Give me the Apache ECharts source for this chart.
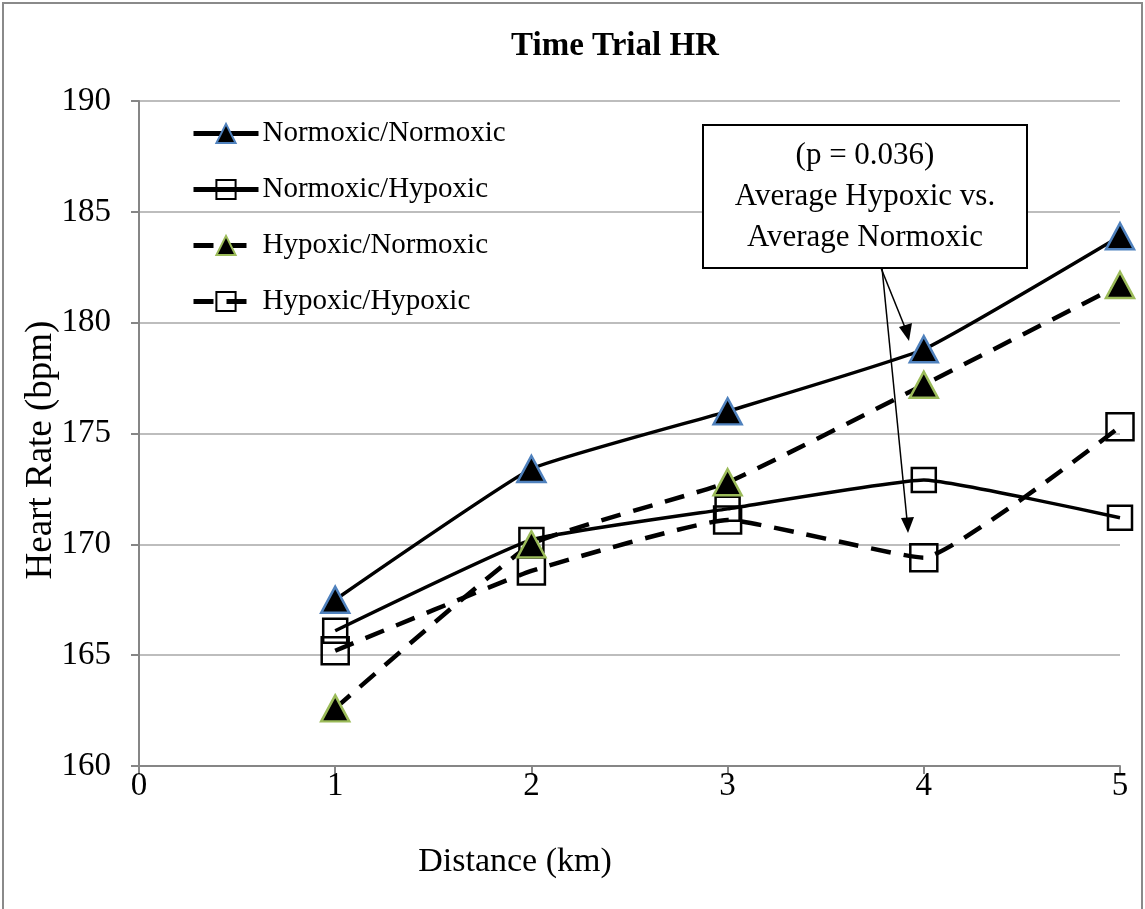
<!DOCTYPE html>
<html>
<head>
<meta charset="utf-8">
<script src="https://cdn.jsdelivr.net/npm/echarts@6/dist/echarts.min.js"></script>
<style>
html,body{margin:0;padding:0;background:#fff;}
#chart{width:1145px;height:909px;}
</style>
</head>
<body>
<div id="chart"></div>
<script>
const distances = [1, 2, 3, 4, 5];
const normNorm = [167.5, 173.4, 176.0, 178.8, 183.9];
const normHyp  = [166.1, 170.2, 171.6, 172.9, 171.2];
const hypNorm  = [162.6, 170.0, 172.8, 177.2, 181.7];
const hypHyp   = [165.2, 168.8, 171.1, 169.4, 175.3];
const seriesNames = ['Normoxic/Normoxic', 'Normoxic/Hypoxic', 'Hypoxic/Normoxic', 'Hypoxic/Hypoxic'];
const xTicks = [0, 1, 2, 3, 4, 5];
const yTicks = [160, 165, 170, 175, 180, 185, 190];
const titleText = 'Time Trial HR';
const xName = 'Distance (km)';
const yName = 'Heart Rate (bpm)';
const noteLines = ['(p = 0.036)', 'Average Hypoxic vs.', 'Average Normoxic'];

const FONT = '"Liberation Serif", "Times New Roman", serif';
const pair = (vals) => distances.map((d, i) => [d, vals[i]]);
const SMOOTH = 0.12;

const chart = echarts.init(document.getElementById('chart'), null, {renderer: 'canvas'});

const option = {
  animation: false,
  backgroundColor: '#fff',
  textStyle: {fontFamily: FONT, color: '#000'},
  grid: {left: 139, right: 25, top: 101, bottom: 143, containLabel: false},
  xAxis: {
    type: 'value', min: xTicks[0], max: xTicks[xTicks.length - 1], interval: 1,
    axisLine: {lineStyle: {color: '#868686', width: 2}},
    axisTick: {show: true, length: 8, lineStyle: {color: '#868686', width: 2}},
    axisLabel: {fontFamily: FONT, fontSize: 33, color: '#000', margin: 4},
    splitLine: {show: false}
  },
  yAxis: {
    type: 'value', min: yTicks[0], max: yTicks[yTicks.length - 1], interval: 5,
    axisLine: {show: true, lineStyle: {color: '#868686', width: 2}},
    axisTick: {show: true, length: 8, lineStyle: {color: '#868686', width: 2}},
    axisLabel: {fontFamily: FONT, fontSize: 33, color: '#000', margin: 28},
    splitLine: {show: true, lineStyle: {color: '#bdbdbd', width: 2}}
  },
  legend: {
    orient: 'vertical', left: 186, top: 114,
    itemWidth: 65, itemHeight: 24, itemGap: 27,
    lineStyle: {width: 5},
    textStyle: {fontFamily: FONT, fontSize: 29, color: '#000', lineHeight: 24, padding: [0,0,0,-1]},
    data: seriesNames
  },
  series: [
    {
      name: seriesNames[0], type: 'line', data: pair(normNorm), smooth: SMOOTH,
      symbol: 'triangle', symbolSize: [28, 26],
      lineStyle: {color: '#000', width: 3.5, type: 'solid'},
      itemStyle: {color: '#000', borderColor: '#4f81bd', borderWidth: 2.5},
      z: 4
    },
    {
      name: seriesNames[1], type: 'line', data: pair(normHyp), smooth: SMOOTH,
      symbol: 'rect', symbolSize: 24,
      lineStyle: {color: '#000', width: 3.5, type: 'solid'},
      itemStyle: {color: 'rgba(255,255,255,0)', borderColor: '#000', borderWidth: 2.5},
      z: 3
    },
    {
      name: seriesNames[2], type: 'line', data: pair(hypNorm), smooth: SMOOTH,
      symbol: 'triangle', symbolSize: [28, 26],
      lineStyle: {color: '#000', width: 4.5, type: [20, 13]},
      itemStyle: {color: '#000', borderColor: '#9bbb59', borderWidth: 2.5},
      z: 4
    },
    {
      name: seriesNames[3], type: 'line', data: pair(hypHyp), smooth: SMOOTH,
      symbol: 'rect', symbolSize: 27,
      lineStyle: {color: '#000', width: 4.5, type: [20, 13]},
      itemStyle: {color: 'rgba(255,255,255,0)', borderColor: '#000', borderWidth: 2.5},
      z: 3
    }
  ],
  graphic: [
    {type: 'rect', silent: true, z: -10,
     shape: {x: 3, y: 3, width: 1139, height: 940},
     style: {fill: 'none', stroke: '#8a8a8a', lineWidth: 2}},
    {type: 'text', silent: true,
     style: {text: titleText, x: 615, y: 46, align: 'center', verticalAlign: 'middle',
             font: 'bold 33px ' + FONT, fill: '#000'}},
    {type: 'text', silent: true,
     style: {text: xName, x: 515, y: 862, align: 'center', verticalAlign: 'middle',
             font: '34px ' + FONT, fill: '#000'}},
    {type: 'text', silent: true, x: 41, y: 450, rotation: Math.PI / 2,
     style: {text: yName, x: 0, y: 0, align: 'center', verticalAlign: 'middle',
             font: '37px ' + FONT, fill: '#000'}},
    {type: 'rect', silent: true, z: 20,
     shape: {x: 703, y: 125, width: 324, height: 143},
     style: {fill: '#fff', stroke: '#000', lineWidth: 2}},
    {type: 'text', silent: true, z: 21,
     style: {text: noteLines.join('\n'), x: 865, y: 197, align: 'center', verticalAlign: 'middle',
             font: '31px ' + FONT, lineHeight: 41, fill: '#000'}},
    {type: 'line', silent: true, z: 20,
     shape: {x1: 881, y1: 268, x2: 906, y2: 330}, style: {stroke: '#000', lineWidth: 1.5}},
    {type: 'polygon', silent: true, z: 20,
     shape: {points: [[909, 341], [899, 327], [912, 323]]}, style: {fill: '#000'}},
    {type: 'line', silent: true, z: 20,
     shape: {x1: 882, y1: 268, x2: 907, y2: 520}, style: {stroke: '#000', lineWidth: 1.5}},
    {type: 'polygon', silent: true, z: 20,
     shape: {points: [[908, 533], [901, 518], [914, 517]]}, style: {fill: '#000'}}
  ]
};
chart.setOption(option);
</script>
</body>
</html>
